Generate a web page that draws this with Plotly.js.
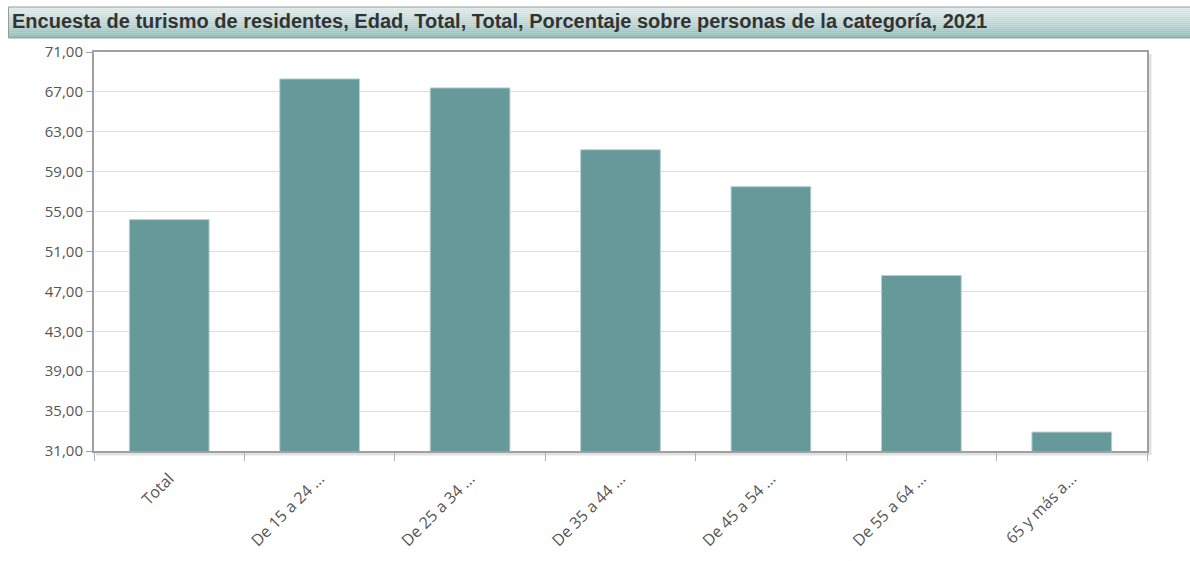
<!DOCTYPE html>
<html><head><meta charset="utf-8">
<script src="https://cdn.plot.ly/plotly-3.0.1.min.js"></script>
<style>html,body{margin:0;padding:0;background:#fff;}#chart{width:1190px;height:561px;}</style>
</head><body><div id="chart"></div>
<script>
const categories = ["Total","De 15 a 24 ...","De 25 a 34 ...","De 35 a 44 ...","De 45 a 54 ...","De 55 a 64 ...","65 y más a..."];
const values = [54.2, 68.3, 67.4, 61.2, 57.5, 48.6, 32.9];
const titleText = "Encuesta de turismo de residentes, Edad, Total, Total, Porcentaje sobre personas de la categoría, 2021";

(function(){
const W = 1190, H = 561;
const mL = 94, mR = 43, mT = 52, mB = 110;
const pw = W - mL - mR, ph = H - mT - mB;
function px2x(p){return (p - mL)/pw;}
function py2y(p){return (H - mB - p)/ph;}
const shapes = [];
const barTop = 7, barBot = 38, n = 16;
const c0 = [224,237,235], c1 = [148,190,186];
for (let i=0;i<n;i++){
  const t = i/(n-1);
  const c = c0.map((v,k)=>Math.round(v+(c1[k]-v)*t));
  shapes.push({type:'rect',xref:'paper',yref:'paper',layer:'below',
    x0:px2x(9),x1:px2x(1190),y0:py2y(barTop+(barBot-barTop)*(i+1)/n),y1:py2y(barTop+(barBot-barTop)*i/n),
    line:{width:0},fillcolor:`rgb(${c[0]},${c[1]},${c[2]})`});
}
shapes.push({type:'rect',xref:'paper',yref:'paper',layer:'below',
  x0:px2x(8.5),x1:px2x(1192),y0:py2y(barBot),y1:py2y(barTop),line:{width:1,color:'#9a9a9a'},fillcolor:'rgba(0,0,0,0)'});
shapes.push({type:'line',xref:'paper',yref:'paper',layer:'below',x0:px2x(1150),x1:px2x(1150),y0:py2y(455),y1:py2y(54),line:{width:3,color:'#e2e2e2'}});
shapes.push({type:'line',xref:'paper',yref:'paper',layer:'below',x0:px2x(96),x1:px2x(1150),y0:py2y(454),y1:py2y(454),line:{width:3,color:'#e2e2e2'}});

const trace = {type:'bar',x:categories,y:values,width:0.53,
  marker:{color:'#669999',line:{color:'#b8d0cf',width:1}},hoverinfo:'x+y'};
const layout = {
  width:W,height:H,margin:{l:mL,r:mR,t:mT,b:mB},
  paper_bgcolor:'#fff',plot_bgcolor:'#fff',
  separators:',.',
  showlegend:false,
  title:{text:'<b>'+titleText+'</b>',x:12/W,xref:'container',xanchor:'left',y:1-21/H,yref:'container',yanchor:'middle',
    font:{family:'Liberation Sans, Arial, sans-serif',size:20,color:'#333'}},
  xaxis:{type:'category',tickangle:-45,tickson:'boundaries',ticks:'outside',ticklen:8,tickcolor:'#b0b0b0',tickwidth:1,
    ticklabelstandoff:10,
    showline:true,mirror:true,linecolor:'#a0a0a0',linewidth:2,showgrid:false,
    tickfont:{family:'Open Sans, sans-serif',size:16,color:'#555'}},
  yaxis:{range:[31,71],tick0:31,dtick:4,tickformat:'.2f',ticks:'outside',ticklen:6,tickcolor:'#a0a0a0',
    showline:true,mirror:true,linecolor:'#a0a0a0',linewidth:2,gridcolor:'#dcdcdc',gridwidth:1,zeroline:false,
    tickfont:{family:'Open Sans, sans-serif',size:15,color:'#555'}},
  shapes:shapes
};
Plotly.newPlot('chart',[trace],layout,{displayModeBar:false,responsive:false});
})();
</script></body></html>
